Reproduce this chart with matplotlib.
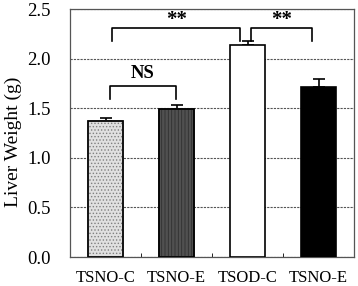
import numpy as np
import matplotlib.pyplot as plt

groups = ["TSNO-C", "TSNO-E", "TSOD-C", "TSNO-E"]
weight = [1.37, 1.49, 2.14, 1.71]
sem = [0.035, 0.04, 0.035, 0.085]

plt.rcParams['font.family'] = ['Liberation Serif', 'DejaVu Serif']
plt.rcParams['hatch.linewidth'] = 0.6

fig = plt.figure(figsize=(3.58, 2.86), dpi=100)
ax = fig.add_axes([70/358, 1-257/286, 284/358, 248/286])

x = np.arange(len(groups))
faces = ['#e0e0e0', '#505050', 'white', 'black']
hatches = ['.....', '|||||', None, None]
for i in range(len(groups)):
    b = ax.bar(x[i], weight[i], 0.5, color=faces[i], edgecolor='black', linewidth=1.2,
               hatch=hatches[i], zorder=3)
    if hatches[i]:
        b[0].set_edgecolor('#808080' if i == 0 else '#303030')
        ax.bar(x[i], weight[i], 0.5, fill=False, edgecolor='black', linewidth=1.2, zorder=4)
ax.errorbar(x, weight, yerr=[np.zeros(4), sem], fmt='none', ecolor='black',
            elinewidth=1.2, capsize=4, capthick=1.2, zorder=2)

ax.set_xlim(-0.5, 3.5)
ax.set_ylim(0, 2.5)
ax.set_yticks(np.arange(0, 2.51, 0.5))
ax.set_yticklabels(['%.1f' % v for v in np.arange(0, 2.51, 0.5)], fontsize=13.5)
ax.set_xticks(x)
ax.set_xticklabels(groups, fontsize=12)
ax.tick_params(axis='x', length=0, pad=9)
ax.set_xticks([0.5, 1.5, 2.5], minor=True)
ax.tick_params(axis='x', which='minor', direction='in', length=3)
ax.tick_params(axis='y', direction='in', length=0, pad=14)
ax.yaxis.grid(True, linestyle=(0, (2, 1)), color='#555555', linewidth=0.8, zorder=0)
ax.set_axisbelow(True)
fig.text(13/358, 1-142/286, 'Liver Weight (g)', rotation=90, ha='center', va='center',
         fontsize=14)
for s in ax.spines.values():
    s.set_color('#555555')
    s.set_linewidth(0.9)

def bracket(x1, x2, ytop, y1, y2, label, ty, fs):
    ax.plot([x1, x1, x2, x2], [y1, ytop, ytop, y2], color='black', lw=1.2, zorder=5)
    ax.text((x1 + x2) / 2, ty, label, ha='center', va='center', fontsize=fs,
            fontweight='bold', zorder=5)

bracket(0.06, 0.99, 1.72, 1.59, 1.59, 'NS', 1.85, 13.5)
bracket(0.09, 1.9, 2.31, 2.18, 2.18, '**', 2.39, 15)
bracket(2.05, 2.91, 2.31, 2.18, 2.18, '**', 2.39, 15)

fig.savefig('out.png', dpi=100)
